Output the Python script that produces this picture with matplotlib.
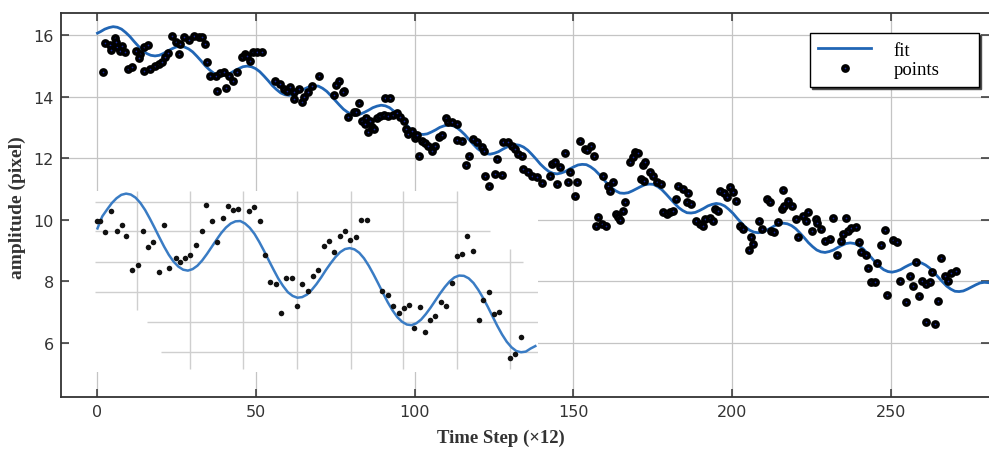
import matplotlib
matplotlib.use("Agg")
import matplotlib.pyplot as plt

# ---------------- data ----------------
xticks = [0, 50, 100, 150, 200, 250]
yticks = [6, 8, 10, 12, 14, 16]

fit_x = [0.0,
         0.98, 2.30, 3.62, 4.94, 6.26, 7.58, 8.90, 10.22, 11.54, 12.86, 14.18, 15.50, 16.82, 18.14, 19.46, 20.78,
         22.10, 23.42, 24.74, 26.06, 27.38, 28.70, 30.02, 31.34, 32.66, 33.98, 35.30, 36.62, 37.94, 39.26, 40.58, 41.90,
         43.22, 44.54, 45.86, 47.18, 48.50, 49.82, 51.14, 52.46, 53.78, 55.10, 56.42, 57.74, 59.06, 60.38, 61.70, 63.02,
         64.34, 65.66, 66.98, 68.30, 69.62, 70.94, 72.26, 73.58, 74.90, 76.22, 77.54, 78.86, 80.18, 81.50, 82.82, 84.14,
         85.46, 86.78, 88.10, 89.42, 90.74, 92.06, 93.38, 94.70, 96.02, 97.34, 98.66, 99.98, 101.30, 102.62, 103.94, 105.26,
         106.58, 107.90, 109.22, 110.54, 111.86, 113.18, 114.50, 115.82, 117.14, 118.46, 119.78, 121.10, 122.42, 123.74, 125.06, 126.38,
         127.70, 129.02, 130.34, 131.66, 132.98, 134.30, 135.62, 136.94, 138.26, 139.58, 140.90, 142.22, 143.54, 144.86, 146.18, 147.50,
         148.82, 150.14, 151.46, 152.78, 154.10, 155.42, 156.74, 158.06, 159.38, 160.70, 162.02, 163.34, 164.66, 165.98, 167.30, 168.62,
         169.94, 171.26, 172.58, 173.90, 175.22, 176.54, 177.86, 179.18, 180.50, 181.82, 183.14, 184.46, 185.78, 187.10, 188.42, 189.74,
         191.06, 192.38, 193.70, 195.02, 196.34, 197.66, 198.98, 200.30, 201.62, 202.94, 204.26, 205.58, 206.90, 208.22, 209.54, 210.86,
         212.18, 213.50, 214.82, 216.14, 217.46, 218.78, 220.10, 221.42, 222.74, 224.06, 225.38, 226.70, 228.02, 229.34, 230.66, 231.98,
         233.30, 234.62, 235.94, 237.26, 238.58, 239.90, 241.22, 242.54, 243.86, 245.18, 246.50, 247.82, 249.14, 250.46, 251.78, 253.10,
         254.42, 255.74, 257.06, 258.38, 259.70, 261.02, 262.34, 263.66, 264.98, 266.30, 267.62, 268.94, 270.26, 271.58, 272.90, 274.22,
         275.54, 276.86, 278.18, 279.50, 280.82]
fit_y = [16.06,
         16.11, 16.19, 16.24, 16.27, 16.25, 16.19, 16.08, 15.95, 15.79, 15.64, 15.50, 15.40, 15.34, 15.32, 15.34, 15.40,
         15.48, 15.55, 15.61, 15.63, 15.61, 15.55, 15.45, 15.31, 15.16, 15.00, 14.87, 14.76, 14.70, 14.68, 14.71, 14.76,
         14.84, 14.91, 14.97, 14.99, 14.97, 14.91, 14.81, 14.67, 14.52, 14.36, 14.23, 14.12, 14.06, 14.04, 14.07, 14.12,
         14.20, 14.27, 14.33, 14.35, 14.34, 14.27, 14.17, 14.03, 13.88, 13.73, 13.59, 13.49, 13.42, 13.41, 13.43, 13.49,
         13.56, 13.64, 13.69, 13.72, 13.70, 13.64, 13.53, 13.40, 13.24, 13.09, 12.95, 12.85, 12.79, 12.77, 12.79, 12.85,
         12.92, 13.00, 13.05, 13.08, 13.06, 13.00, 12.89, 12.76, 12.60, 12.45, 12.31, 12.21, 12.15, 12.13, 12.16, 12.21,
         12.29, 12.36, 12.42, 12.44, 12.42, 12.36, 12.26, 12.12, 11.97, 11.81, 11.68, 11.57, 11.51, 11.49, 11.52, 11.57,
         11.65, 11.72, 11.78, 11.80, 11.79, 11.72, 11.62, 11.48, 11.33, 11.17, 11.04, 10.94, 10.87, 10.86, 10.88, 10.94,
         11.01, 11.08, 11.14, 11.16, 11.15, 11.08, 10.98, 10.84, 10.69, 10.54, 10.40, 10.30, 10.23, 10.22, 10.24, 10.30,
         10.37, 10.45, 10.50, 10.53, 10.51, 10.45, 10.34, 10.21, 10.05, 9.90, 9.76, 9.66, 9.60, 9.58, 9.60, 9.66,
         9.73, 9.81, 9.86, 9.89, 9.87, 9.81, 9.71, 9.57, 9.42, 9.26, 9.13, 9.02, 8.96, 8.94, 8.97, 9.02,
         9.10, 9.17, 9.23, 9.25, 9.23, 9.17, 9.07, 8.93, 8.78, 8.62, 8.49, 8.38, 8.32, 8.30, 8.33, 8.38,
         8.46, 8.53, 8.59, 8.61, 8.60, 8.53, 8.43, 8.29, 8.14, 7.99, 7.85, 7.75, 7.68, 7.67, 7.69, 7.75,
         7.82, 7.89, 7.95, 7.97, 7.96]

pts_x = [2.5, 3.9, 5.4, 4.3, 6.2, 7.8, 7.0, 8.8, 5.7, 1.8, 9.6, 10.9, 12.0, 13.5, 13.0,
         14.6, 15.9, 14.6, 16.7, 18.0, 19.3, 20.4, 21.4, 22.2, 23.5, 24.6, 25.6, 26.1, 27.4,
         28.8, 30.3, 31.9, 33.0, 33.8, 34.5, 35.6, 37.2, 38.7, 39.8, 41.4, 42.7, 44.0, 37.7,
         40.6, 45.6, 46.6, 48.0, 49.0, 50.3, 51.9, 47.1, 56.1, 57.6, 58.7, 59.7, 60.8, 62.0,
         63.4, 65.0, 66.5, 67.6, 69.7, 64.4, 61.8,
         76.0, 75.3, 77.8, 77.4, 74.4, 79.1, 80.7, 82.3, 81.6, 83.3, 84.4, 85.4, 86.5, 87.2,
         84.7, 86.0, 88.1, 89.1, 90.2, 90.7, 92.3, 91.7, 93.3, 94.4, 95.4, 96.5, 97.3, 98.0,
         99.1, 100.1, 100.7, 102.2, 101.2, 103.3, 104.3, 105.4, 106.4, 107.5, 108.5, 109.9,
         110.6, 111.7, 113.2, 113.2, 114.8, 118.5, 119.5, 121.1, 121.9, 117.2, 116.2, 122.2,
         123.5, 125.3, 127.4, 125.8, 127.9, 129.5, 130.6, 131.6, 132.7, 133.7, 134.2, 135.8,
         136.9, 138.4, 140.0, 142.6, 143.2, 144.2, 145.8, 144.7, 147.4, 148.4, 148.9, 151.0,
         150.5,
         152.1, 153.7, 155.4, 156.5, 154.2, 159.4, 161.0, 162.4, 161.5, 157.9, 158.9, 157.1,
         160.3, 163.4, 164.2, 165.5, 166.3, 164.7, 167.8, 169.4, 170.5, 168.9, 171.8, 172.6,
         171.2, 172.2, 174.1, 175.2, 176.4, 177.5, 178.1, 179.4, 180.6, 181.5, 182.3, 183.0,
         184.4, 186.2, 185.9, 187.2, 188.6, 189.9, 190.9, 191.4, 193.0, 193.9, 194.6, 195.6,
         196.2, 197.4, 198.3, 199.3, 200.4, 201.2, 202.5, 203.5, 206.1, 206.7, 205.4, 208.6,
         209.6, 212.4, 213.2, 214.5, 215.6, 216.3, 216.1, 217.7, 211.1, 212.1,
         219.0, 220.1, 220.8, 222.4, 224.0, 223.4, 225.3, 226.4, 226.8, 228.2, 229.2, 230.8,
         231.8, 233.1, 234.2, 235.0, 235.8, 236.6, 237.6, 239.2, 240.0, 240.8, 242.1, 242.9,
         243.9, 245.0, 245.7, 247.1, 248.1, 250.7, 252.0, 248.8, 252.8, 254.9, 256.0, 257.0,
         257.9, 258.9, 260.0, 261.2, 262.3, 263.1, 264.9, 266.0, 267.0, 268.1, 269.1, 270.5,
         261.0, 263.9]
pts_y = [15.74, 15.68, 15.89, 15.52, 15.60, 15.65, 15.47, 15.44, 15.76, 14.81, 14.90, 14.95,
         15.49, 15.38, 15.24, 15.60, 15.68, 14.84, 14.90, 15.00, 15.06, 15.13, 15.27, 15.42,
         15.98, 15.76, 15.38, 15.71, 15.92, 15.85, 15.98, 15.92, 15.92, 15.71, 15.13, 14.66,
         14.68, 14.77, 14.79, 14.66, 14.52, 14.79, 14.19, 14.28, 15.27, 15.38, 15.17, 15.44,
         15.44, 15.44, 15.33, 14.52, 14.41, 14.25, 14.19, 14.30, 13.92, 14.25, 13.98, 14.14,
         14.36, 14.66, 13.81, 14.14,
         14.52, 14.38, 14.19, 14.14, 14.05, 13.33, 13.49, 13.78, 13.51, 13.22, 13.11, 12.86,
         13.00, 12.95, 13.30, 13.22, 13.30, 13.36, 13.40, 13.94, 13.94, 13.36, 13.40, 13.47,
         13.33, 13.22, 12.95, 12.79, 12.89, 12.65, 12.75, 12.57, 12.08, 12.49, 12.39, 12.24,
         12.39, 12.68, 12.75, 13.30, 13.19, 13.16, 13.11, 12.60, 12.57, 12.62, 12.51, 12.35,
         12.24, 12.08, 11.78, 11.41, 11.09, 11.49, 11.45, 11.97, 12.51, 12.51, 12.39, 12.30,
         12.14, 12.08, 11.65, 11.54, 11.43, 11.38, 11.20, 11.41, 11.81, 11.87, 11.70, 11.16,
         12.17, 11.24, 11.54, 11.22, 10.78,
         12.57, 12.30, 12.39, 12.08, 12.25, 11.43, 11.11, 11.24, 10.95, 10.08, 9.86, 9.81,
         9.81, 10.19, 10.08, 10.30, 10.59, 10.00, 11.87, 12.21, 12.17, 12.03, 11.78, 11.87,
         11.33, 11.27, 11.54, 11.43, 11.24, 11.16, 10.24, 10.19, 10.24, 10.30, 10.68, 11.09,
         11.00, 10.87, 10.59, 10.51, 9.97, 9.86, 9.81, 10.03, 10.05, 9.97, 10.35, 10.30,
         10.95, 10.87, 10.73, 11.05, 10.89, 10.62, 9.81, 9.70, 9.43, 9.21, 9.03, 9.97,
         9.70, 9.65, 9.59, 9.92, 10.35, 10.46, 10.98, 10.62, 10.68, 10.57,
         10.44, 10.03, 9.43, 10.13, 10.26, 9.97, 9.65, 10.03, 9.90, 9.70, 9.32, 9.38,
         10.05, 8.86, 9.32, 9.54, 10.05, 9.65, 9.72, 9.76, 9.29, 8.94, 8.86, 8.42,
         7.97, 7.97, 8.60, 9.18, 9.68, 9.36, 9.29, 7.56, 8.02, 7.32, 8.16, 7.86,
         8.64, 7.54, 8.02, 7.92, 7.97, 8.32, 7.37, 8.75, 8.19, 8.02, 8.27, 8.35,
         6.69, 6.62]

ins_fit_x = [0, 1.5, 3, 4.5, 6, 7.5, 9, 10.5, 12, 13.5,
             15, 16.5, 18, 19.5, 21, 22.5, 24, 25.5, 27, 28.5,
             30, 31.5, 33, 34.5, 36, 37.5, 39, 40.5, 42, 43.5,
             45, 46.5, 48, 49.5, 51, 52.5, 54, 55.5, 57, 58.5,
             60, 61.5, 63, 64.5, 66, 67.5, 69, 70.5, 72, 73.5,
             75, 76.5, 78, 79.5, 81, 82.5, 84, 85.5, 87, 88.5,
             90, 91.5, 93, 94.5, 96, 97.5, 99, 100.5, 102, 103.5,
             105, 106.5, 108, 109.5, 111, 112.5, 114, 115.5, 117, 118.5,
             120, 121.5, 123, 124.5, 126, 127.5, 129, 130.5, 132, 133.5,
             135, 136.5, 138]
ins_fit_y = [9.72, 10.11, 10.33, 10.54, 10.70, 10.81, 10.85, 10.82, 10.72, 10.55,
             10.32, 10.04, 9.74, 9.43, 9.13, 8.86, 8.64, 8.48, 8.38, 8.35,
             8.40, 8.51, 8.68, 8.89, 9.12, 9.35, 9.57, 9.75, 9.88, 9.95,
             9.96, 9.88, 9.74, 9.54, 9.28, 8.99, 8.68, 8.38, 8.09, 7.85,
             7.65, 7.53, 7.47, 7.49, 7.57, 7.72, 7.91, 8.13, 8.37, 8.59,
             8.79, 8.95, 9.05, 9.08, 9.04, 8.93, 8.75, 8.51, 8.23, 7.93,
             7.62, 7.32, 7.06, 6.84, 6.69, 6.60, 6.58, 6.64, 6.76, 6.94,
             7.15, 7.38, 7.61, 7.82, 8.00, 8.13, 8.19, 8.18, 8.10, 7.95,
             7.73, 7.47, 7.18, 6.87, 6.56, 6.28, 6.04, 5.86, 5.74, 5.70,
             5.72, 5.82, 5.90]

ins_pts_x = [-0.1, 0.7, 2.5, 4.3, 6.0, 7.6, 9.1, 10.9, 12.7, 14.3, 16.0, 17.5, 19.4, 21.1,
             22.6, 24.6, 26.1, 27.7, 29.3, 31.0, 32.8, 34.3, 36.0, 37.7, 39.5, 41.1, 42.7,
             44.4, 47.9, 49.4, 51.2, 52.9, 54.5, 56.2, 57.8, 59.5, 61.2, 62.9, 64.6, 66.3,
             67.9, 69.6, 71.3, 73.1, 74.7, 76.3, 78.1, 79.7, 81.4, 83.1, 84.9, 89.8, 91.5,
             93.1, 94.9, 96.6, 98.2, 99.8, 101.5, 103.2, 104.9, 106.5, 108.2, 109.9, 111.6,
             113.3, 114.9, 116.6, 118.3, 120.1, 121.6, 123.3, 125.0, 126.7, 130.0, 131.7,
             133.4]
ins_pts_y = [9.95, 9.97, 9.59, 10.30, 9.65, 9.83, 9.46, 8.38, 8.53, 9.65, 9.13, 9.27, 8.32,
             9.83, 8.42, 8.75, 8.62, 8.76, 8.86, 9.19, 9.65, 10.48, 9.96, 9.29, 10.05, 10.46,
             10.33, 10.35, 10.29, 10.43, 9.95, 8.87, 7.97, 7.92, 6.99, 8.10, 8.10, 7.21, 7.92,
             7.68, 8.19, 8.38, 9.16, 9.32, 8.97, 9.49, 9.65, 9.36, 9.43, 9.99, 10.00, 7.70,
             7.56, 7.19, 6.99, 7.13, 7.23, 6.49, 7.16, 6.37, 6.75, 6.89, 7.32, 7.21, 7.95,
             8.83, 8.88, 9.46, 9.00, 6.74, 7.38, 7.67, 6.93, 7.02, 5.52, 5.63, 6.18]

# inset grid (styling of the pasted inset panel)
ins_vx = [12.35, 29.14, 45.94, 62.95, 79.77, 96.35, 113.17, 129.96]
ins_vy0 = [7.07, 5.16, 5.16, 5.16, 5.16, 5.16, 5.16, 5.16]
ins_vy1 = [10.94, 10.94, 10.94, 10.94, 10.94, 10.94, 10.94, 9.05]
ins_hy = [10.59, 9.63, 8.63, 7.65, 6.67, 5.70]
ins_hx0 = [-0.8, -0.8, -0.8, -0.8, 15.5, 19.9]
ins_hx1 = [113.3, 123.7, 134.2, 139.0, 139.0, 139.0]

# ---------------- figure ----------------
fig = plt.figure(figsize=(9.89, 4.52), dpi=100)
ax = fig.add_axes([61 / 989, 1 - 398 / 452, 928 / 989, 384 / 452])
ax.set_xlim(-11.5, 281.0)
ax.set_ylim(4.247, 16.714)
ax.set_xticks(xticks)
ax.set_yticks(yticks)
ax.grid(True, color="#c4c4c4", lw=0.9)
ax.tick_params(direction="in", length=5.5, width=1.1, color="#333333",
               top=True, right=True, labelsize=11.5, labelcolor="#333333", pad=5)
for s in ["left", "top", "bottom"]:
    ax.spines[s].set_color("#333333")
    ax.spines[s].set_linewidth(1.3)
ax.spines["right"].set_visible(False)

fit_line, = ax.plot(fit_x, fit_y, color="#2166b5", lw=2.0, zorder=3, label="fit",
                    solid_joinstyle="round")
pts_line, = ax.plot(pts_x, pts_y, "o", ms=3.8, mfc="#1a2a9a", mec="black", mew=2.5,
                    zorder=4, label="points")

# inset panel
x0, x1, y0, y1 = -9.0, 139.0, 5.06, 10.94
axi = ax.inset_axes([x0, y0, x1 - x0, y1 - y0], transform=ax.transData, zorder=1.7)
axi.set_xlim(x0, x1)
axi.set_ylim(y0, y1)
axi.set_facecolor("white")
for s in axi.spines.values():
    s.set_visible(False)
axi.set_xticks([])
axi.set_yticks([])
axi.vlines(ins_vx, ins_vy0, ins_vy1, colors="#cfcfcf", lw=1.0)
axi.hlines(ins_hy, ins_hx0, ins_hx1, colors="#cfcfcf", lw=1.0)
axi.plot(ins_fit_x, ins_fit_y, color="#3a7cc4", lw=1.8, clip_on=False,
         solid_joinstyle="round")
axi.plot(ins_pts_x, ins_pts_y, "o", color="#111111", ms=4, mew=0)

# legend
leg = ax.legend(handles=[fit_line, pts_line], loc="upper right",
                bbox_to_anchor=(0.807, 0.6, 0.182, 0.348), mode="expand",
                borderaxespad=0, fancybox=False,
                edgecolor="black", framealpha=1,
                prop={"family": "Liberation Serif", "size": 13.5},
                handlelength=2.8, handletextpad=1.2, labelspacing=0.15, borderpad=0.45,
                shadow={"ox": 1.5, "oy": -1.5, "facecolor": "#333333", "alpha": 1})
leg.get_frame().set_linewidth(1.0)

# axis labels
ax.set_xlabel("Time Step (×12)", fontfamily="Liberation Serif", fontweight="bold",
              fontsize=13.5, color="#333333")
ax.xaxis.set_label_coords(0.474, -0.083)
ax.set_ylabel("amplitude (pixel)", fontfamily="Liberation Serif", fontweight="bold",
              fontsize=14, color="#333333")
ax.yaxis.set_label_coords(-0.038, 0.495)

fig.savefig("out.png", dpi=100)
